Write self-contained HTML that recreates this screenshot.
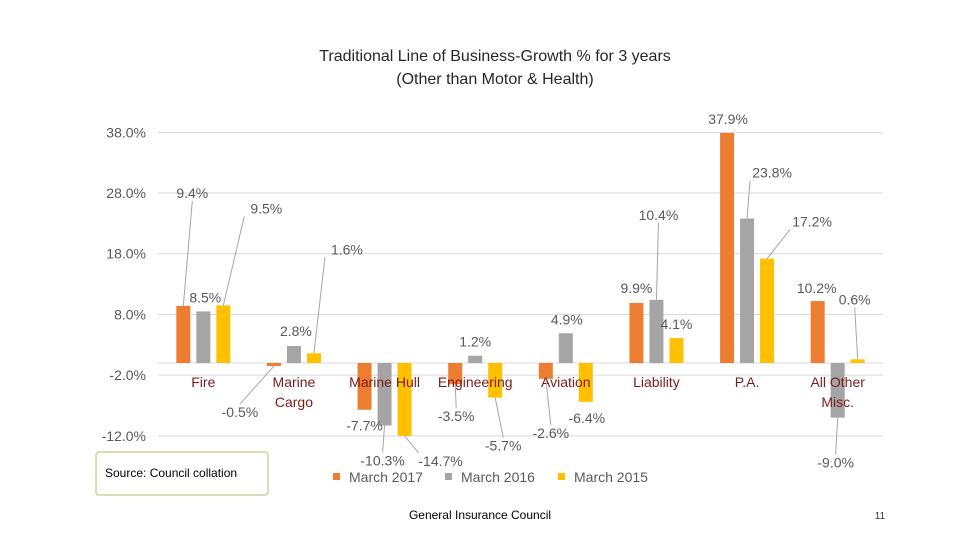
<!DOCTYPE html>
<html><head><meta charset="utf-8"><style>
body{margin:0;background:#fff;}
svg{display:block;font-family:"Liberation Sans",sans-serif;}
</style></head><body>
<svg id="c" width="960" height="540" viewBox="0 0 960 540">
<text x="495" y="61" text-anchor="middle" font-size="16" fill="#262626">Traditional Line of Business-Growth % for 3 years</text>
<text x="495" y="84" text-anchor="middle" font-size="16" fill="#262626">(Other than Motor &amp; Health)</text>
<g id="grid"></g><g id="bars"></g><g id="cats"></g><g id="labels"></g>
<g>
<rect x="333" y="473" width="7" height="7" fill="#ED7D31"/>
<text x="349" y="482" font-size="14" fill="#595959">March 2017</text>
<rect x="445" y="473" width="7" height="7" fill="#A5A5A5"/>
<text x="461" y="482" font-size="14" fill="#595959">March 2016</text>
<rect x="558" y="473" width="7" height="7" fill="#FFC000"/>
<text x="574" y="482" font-size="14" fill="#595959">March 2015</text>
</g>
<rect x="96" y="452" width="172" height="43" rx="3" fill="#fff" stroke="#C9D89A" stroke-width="1.5"/>
<text x="105" y="477" font-size="12" fill="#000">Source: Council collation</text>
<text x="480" y="519" text-anchor="middle" font-size="12" fill="#000">General Insurance Council</text>
<text x="880" y="519" text-anchor="middle" font-size="10" fill="#333">11</text>
</svg>
<script>
const categories=[["Fire"],["Marine","Cargo"],["Marine  Hull"],["Engineering"],["Aviation"],["Liability"],["P.A."],["All Other","Misc."]];
const march2017=[9.4,-0.5,-7.7,-3.5,-2.6,9.9,37.9,10.2];
const march2016=[8.5,2.8,-10.3,1.2,4.9,10.4,23.8,-9.0];
const march2015=[9.5,1.6,-14.7,-5.7,-6.4,4.1,17.2,0.6];
const yTicks=[38,28,18,8,-2,-12];
const yMin=-12,yMax=38;
// label layout offsets (pixels, relative to bar end)
const offX=[[9,-34,0,1,5,0,1,-1],[2,2,-2,0,1,2,25,-2],[43,33,36,8,1,0,45,-3]];
const offY=[[-113,46,16,32,54,-15,-14,-13],[-14,-15,35,-14,-14,-85,-46,45],[-97,-104,25,48,16,-14,-37,-60]];
const NS="http://www.w3.org/2000/svg";
const X0=158,X1=883,Y0=363,K=6.07;
const y=v=>Y0-v*K;
const catW=(X1-X0)/categories.length;
const cx=i=>X0+catW*(i+0.5);
function mk(t,a,p){const e=document.createElementNS(NS,t);for(const k in a)e.setAttribute(k,a[k]);p.appendChild(e);return e;}
const grid=document.getElementById('grid'),bars=document.getElementById('bars'),labels=document.getElementById('labels'),cats=document.getElementById('cats');
yTicks.forEach(t=>{
 const l=mk('line',{x1:X0,x2:X1,y1:y(t),y2:y(t),stroke:'#D9D9D9','stroke-width':1},grid);
 
 
 const tx=mk('text',{x:146,y:y(t)+5,'text-anchor':'end','font-size':14,fill:'#595959'},grid);
 tx.textContent=t.toFixed(1)+'%';
 
 
});
const zl=mk('line',{x1:X0,x2:X1,y1:Y0,y2:Y0,stroke:'#D9D9D9','stroke-width':1},grid);


const series=[march2017,march2016,march2015],colors=['#ED7D31','#A5A5A5','#FFC000'],snames=['2017','2016','2015'];
categories.forEach((c,i)=>{
 c.forEach((line,j)=>{
  const t=mk('text',{x:cx(i),y:387+j*20,'text-anchor':'middle','font-size':14,fill:'#7B1C1C','xml:space':'preserve'},cats);
  t.textContent=line;
  
  
 });
 series.forEach((s,k)=>{
  const v=Math.max(yMin,Math.min(yMax,s[i]));
  const bx=cx(i)+(k-1)*20;
  const top=Math.min(y(v),Y0),h=Math.abs(y(v)-Y0);
  const r=mk('rect',{x:bx-7,y:top,width:14,height:Math.max(h,1.5),fill:colors[k]},bars);
  
  
  const ex=bx,ey=y(v);
  const lx=ex+offX[k][i],ly=ey+offY[k][i];
  if(Math.abs(offY[k][i])>22||Math.abs(offX[k][i])>22){
   const up=ly<ey;
   const ln=mk('polyline',{points:`${ex},${ey} ${lx-(offX[k][i]>22?22:0)},${up?ly+8:ly-8}`,fill:'none',stroke:'#A6A6A6','stroke-width':1},labels);
   
   
  }
  const t=mk('text',{x:lx,y:ly+5,'text-anchor':'middle','font-size':14,fill:'#595959'},labels);
  t.textContent=s[i].toFixed(1)+'%';
  
  
 });
});
</script>
</body></html>
